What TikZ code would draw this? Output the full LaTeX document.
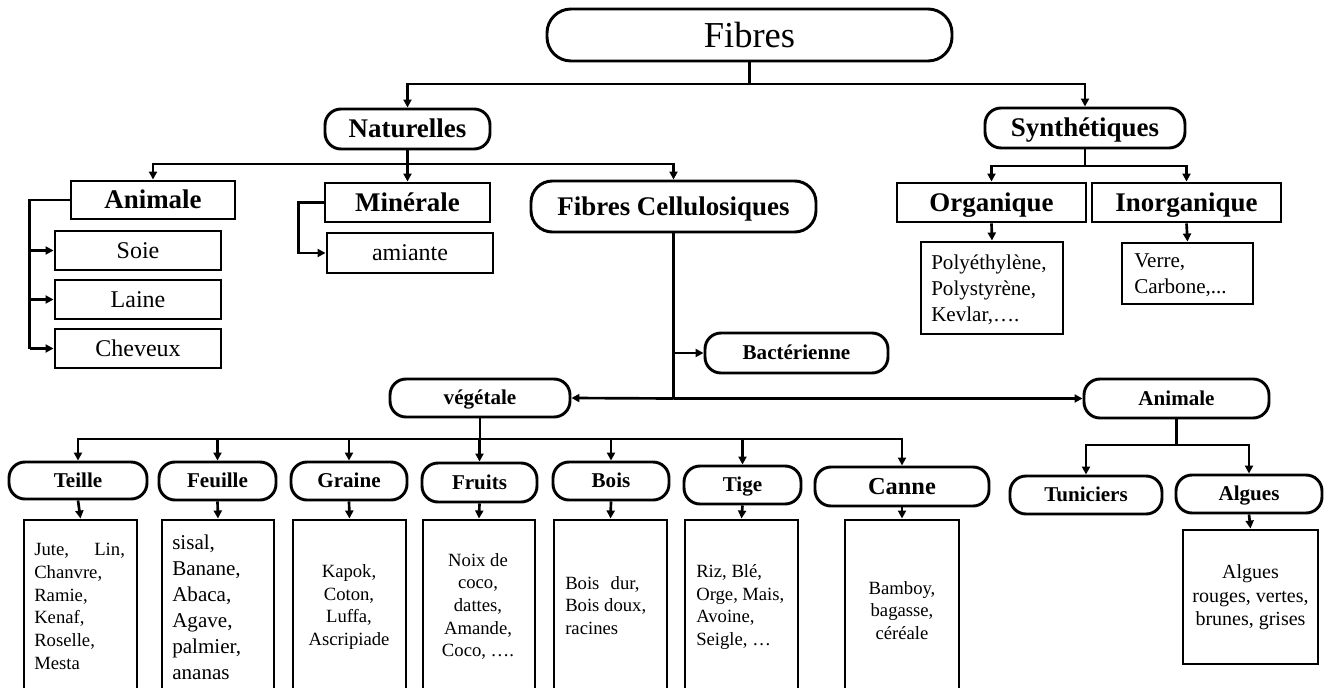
\documentclass[tikz,border=0pt]{standalone}
\usepackage{fontspec}
\setmainfont{Liberation Serif}
\usetikzlibrary{arrows.meta}
\begin{document}
\begin{tikzpicture}[x=0.75pt,y=-0.75pt,
  sz/.style 2 args={minimum width=#1*0.75pt,minimum height=#2*0.75pt},
  base/.style={draw,line width=2.2pt,inner sep=0pt,align=center},
  rnd/.style={base,rounded corners=12pt},
  sq/.style={base},
  capcenter/.style={text height=#1,text depth=0pt},
  hT/.style={capcenter=18.1pt,font=\fontsize{27.4}{32}\selectfont},
  hA/.style={capcenter=13.3pt,font=\fontsize{20.2}{24}\selectfont\bfseries},
  hB/.style={capcenter=10.4pt,font=\fontsize{15.8}{19}\selectfont\bfseries},
  hC/.style={capcenter=12.1pt,font=\fontsize{18.3}{22}\selectfont\bfseries},
  leaf/.style={capcenter=11.9pt,font=\fontsize{18}{21}\selectfont},
  lstA/.style={font=\fontsize{15.8}{19.5}\selectfont,inner sep=0pt},
  lstB/.style={font=\fontsize{14}{17}\selectfont,inner sep=0pt},
  lstC/.style={font=\fontsize{15}{17.6}\selectfont,inner sep=0pt},
  conn/.style={line width=2pt},
  arr/.style={conn,-{Triangle[length=6pt,width=6pt]}},
]
\useasboundingbox (0,0) rectangle (1324,688);
\clip (0,0) rectangle (1324,688);

% top level
\node[base,rounded corners=18pt,sz={405}{52},hT] (fibres) at (749.5,35) {Fibres};
\node[rnd,sz={165}{40},hA] (nat) at (407.5,129) {Naturelles};
\node[rnd,sz={200}{40},hA] (syn) at (1085,128) {Synthétiques};

% naturelles branch
\node[sq,sz={164}{38},hA] (anim) at (153,200) {Animale};
\node[sq,sz={166}{39},leaf] (soie) at (138,250.5) {Soie};
\node[sq,sz={166}{39},leaf] (laine) at (138,299.5) {Laine};
\node[sq,sz={166}{39},leaf] (chev) at (138,348.5) {Cheveux};
\node[sq,sz={165}{39},hA] (minr) at (407.5,202.5) {Minérale};
\node[sq,sz={166}{40},leaf] (amiante) at (410,253) {amiante};
\node[base,rounded corners=16pt,sz={285}{51},hA] (fc) at (673.5,206.5) {Fibres Cellulosiques};

% synthetiques branch
\node[sq,sz={189}{39},hA] (org) at (991.5,202.5) {Organique};
\node[sq,sz={189}{39},hA] (inorg) at (1186.5,202.5) {Inorganique};
\node[sq,sz={142}{92}] (polyB) at (992,288) {};
\node[lstA,align=left,anchor=west] (polyT) at (931,289.5) {Polyéthylène,\\Polystyrène,\\Kevlar,….};
\node[sq,sz={131}{61}] (verreB) at (1187.5,273.5) {};
\node[lstA,align=left,anchor=west] (verreT) at (1134,275) {Verre,\\Carbone,...};

% cellulosiques
\node[rnd,sz={183}{40},hB] (bact) at (796.5,353) {Bactérienne};
\node[rnd,sz={180}{38},hB] (veg) at (480,398) {végétale};
\node[rnd,sz={185}{39},hB] (aniR) at (1176.5,398.5) {Animale};
\node[rnd,sz={152}{38},hB] (tun) at (1086,495) {Tuniciers};
\node[rnd,sz={146}{38},hB] (alg) at (1249,494) {Algues};
\node[sq,sz={135}{134}] (algB) at (1250.5,597) {};
\node[lstC,align=center] (algT) at (1250.5,597.5) {Algues\\rouges, vertes,\\brunes, grises};

% vegetale children
\node[rnd,sz={138}{37},hB] (teille) at (78,480.5) {Teille};
\node[rnd,sz={117}{38},hB] (feuille) at (217.5,481) {Feuille};
\node[rnd,sz={116}{38},hB] (graine) at (349,481) {Graine};
\node[rnd,sz={115}{39},hB] (fruits) at (479.5,482.5) {Fruits};
\node[rnd,sz={116}{38},hB] (bois) at (611,481) {Bois};
\node[rnd,sz={117}{38},hB] (tige) at (742.5,485) {Tige};
\node[rnd,sz={174}{39},hC] (canne) at (902,486.5) {Canne};

\node[sq,sz={113}{180}] (teilleB) at (80.5,610) {};
\node[sq,sz={112}{180}] (feuilleB) at (218,610) {};
\node[sq,sz={113}{180}] (graineB) at (349.5,610) {};
\node[sq,sz={112}{180}] (fruitsB) at (479,610) {};
\node[sq,sz={113}{180}] (boisB) at (610.5,610) {};
\node[sq,sz={113}{180}] (tigeB) at (741.5,610) {};
\node[sq,sz={114}{180}] (canneB) at (902,610) {};

\node[lstB,align=left,anchor=west] (teilleT) at (34,606.5) {\hbox to 68pt{Jute,\hfill Lin,}\\Chanvre,\\Ramie,\\Kenaf,\\Roselle,\\Mesta};
\node[lstA,align=left,anchor=west] (feuilleT) at (172,607) {sisal,\\Banane,\\Abaca,\\Agave,\\palmier,\\ananas};
\node[lstB,align=center] (graineT) at (349,607) {Kapok,\\Coton,\\Luffa,\\Ascripiade};
\node[lstB,align=center] (fruitsT) at (478,606.5) {Noix de\\coco,\\dattes,\\Amande,\\Coco, ….};
\node[lstB,align=left,anchor=west] (boisT) at (565,605.5) {Bois\hspace{0.6em}dur,\\Bois doux,\\racines};
\node[lstB,align=left,anchor=west] (tigeT) at (696,607) {Riz, Blé,\\\hbox to 66pt{Orge,\hfill Mais,}\\Avoine,\\Seigle, …};
\node[lstB,align=center] (canneT) at (902,610.5) {Bamboy,\\bagasse,\\céréale};

% connectors
\coordinate (j1) at (749.5,84);
\draw[conn] (fibres.south) -- (j1);
\draw[arr] (j1) -| (nat.north);
\draw[arr] (j1) -| (syn.north);

\coordinate (j2) at (407.5,164);
\draw[conn] (nat.south) -- (j2);
\draw[arr] (j2) -| (anim.north);
\draw[arr] (j2) -- (minr.north);
\draw[arr] (j2) -| (fc.north);

\draw[conn] (anim.west) -- ++(-40,0) coordinate (j3) -- (j3 |- chev.west);
\draw[arr] (j3 |- soie.west) -- (soie.west);
\draw[arr] (j3 |- laine.west) -- (laine.west);
\draw[arr] (j3 |- chev.west) -- (chev.west);
\draw[arr] (minr.west) -- ++(-25,0) |- (amiante.west);

\coordinate (j4) at (1085,166);
\draw[conn] (syn.south) -- (j4);
\draw[arr] (j4) -| (org.north);
\draw[arr] (j4) -| (inorg.north);
\draw[arr] (org.south) -- (polyB.north);
\draw[arr] (inorg.south) -- (verreB.north);

\coordinate (j5) at (673.5,398.5);
\draw[conn] (fc.south) -- (j5);
\draw[arr] (fc.south |- bact.west) -- (bact.west);
\draw[arr] (j5) -- (veg.east);
\draw[arr] (j5) -- (aniR.west);

\coordinate (j6) at (480,439);
\draw[conn] (veg.south) -- (j6);
\foreach \n in {teille,feuille,graine,fruits,bois,tige,canne}{
  \draw[arr] (j6) -| (\n.north);
  \draw[arr] (\n.south) -- (\n B.north);
}

\coordinate (j7) at (1176.5,445);
\draw[conn] (aniR.south) -- (j7);
\draw[arr] (j7) -| (tun.north);
\draw[arr] (j7) -| (alg.north);
\draw[arr] (alg.south) -- (algB.north);
\end{tikzpicture}
\end{document}
